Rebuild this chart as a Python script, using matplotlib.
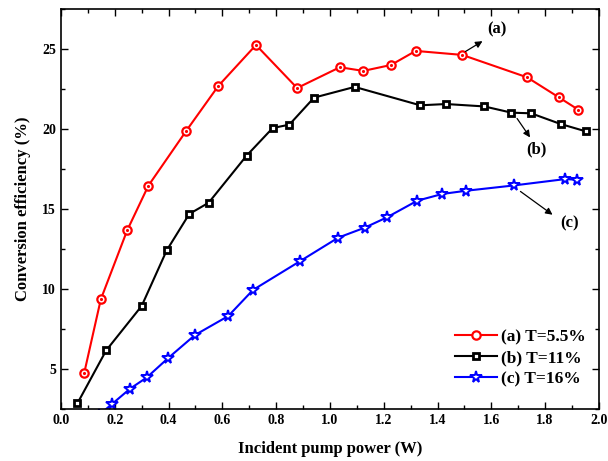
import matplotlib
matplotlib.use("Agg")
import matplotlib.pyplot as plt
from matplotlib.ticker import MultipleLocator, FormatStrFormatter

plt.rcParams['font.family'] = ['Liberation Serif', 'DejaVu Serif']
plt.rcParams['font.weight'] = 'bold'

# (a) T=5.5%
pa = [0.086, 0.148, 0.246, 0.325, 0.466, 0.585, 0.725, 0.878, 1.037, 1.124,
      1.227, 1.319, 1.492, 1.733, 1.851, 1.923]
ea = [4.72, 9.35, 13.66, 16.46, 19.89, 22.69, 25.25, 22.56, 23.86, 23.63,
      24.00, 24.88, 24.63, 23.23, 21.98, 21.21]

# (b) T=11%
pb = [0.061, 0.168, 0.300, 0.393, 0.477, 0.549, 0.690, 0.787, 0.849, 0.941,
      1.092, 1.336, 1.432, 1.574, 1.675, 1.748, 1.858, 1.952]
eb = [2.85, 6.16, 8.94, 12.41, 14.69, 15.39, 18.33, 20.06, 20.27, 21.96,
      22.63, 21.48, 21.56, 21.41, 21.02, 20.98, 20.31, 19.85]

# (c) T=16%  (first point sits below the visible range)
pc = [0.140, 0.191, 0.257, 0.319, 0.399, 0.498, 0.622, 0.714, 0.888, 1.031,
      1.129, 1.211, 1.325, 1.418, 1.506, 1.683, 1.875, 1.917]
ec = [2.10, 2.83, 3.77, 4.47, 5.69, 7.12, 8.31, 9.94, 11.73, 13.21,
      13.83, 14.47, 15.52, 15.94, 16.14, 16.47, 16.87, 16.83]

labels = ['(a) T=5.5%', '(b) T=11%', '(c) T=16%']

fig = plt.figure(figsize=(6.08, 4.61), dpi=100)
ax = fig.add_axes([0.1003, 0.1128, 0.8847, 0.8677])

ax.plot(pa, ea, color='red', lw=1.5, marker='o', ms=6, mfc='white',
        mec='red', mew=1.6, label=labels[0])
ax.plot(pa, ea, ls='none', marker='.', ms=2.5, color='red')
ax.plot(pb, eb, color='black', lw=1.5, marker='s', ms=4.8, mfc='white',
        mec='black', mew=2.0, label=labels[1])
ax.plot(pc, ec, color='blue', lw=1.5, marker='*', ms=8.5, mfc='white',
        mec='blue', mew=1.4, label=labels[2])

ax.set_xlim(0, 2.0)
ax.set_ylim(2.5, 27.5)
ax.xaxis.set_major_locator(MultipleLocator(0.2))
ax.xaxis.set_minor_locator(MultipleLocator(0.1))
ax.xaxis.set_major_formatter(FormatStrFormatter('%.1f'))
ax.yaxis.set_major_locator(MultipleLocator(5))
ax.yaxis.set_minor_locator(MultipleLocator(2.5))
ax.tick_params(which='both', direction='in', top=True, right=True,
               labelsize=10, width=1)
ax.tick_params(which='major', length=5)
ax.tick_params(which='minor', length=3)
for s in ax.spines.values():
    s.set_linewidth(1.2)

ax.set_xlabel('Incident pump power (W)', fontsize=12, fontweight='bold', labelpad=10)
ax.set_ylabel('Conversion efficiency (%)', fontsize=12, fontweight='bold', labelpad=8)

arr = dict(arrowstyle='-|>', color='black', lw=0.9, mutation_scale=10)
ax.text(1.62, 26.25, '(a)', fontsize=12, fontweight='bold', ha='center', va='center')
ax.annotate('', xy=(1.576, 25.58), xytext=(1.495, 24.75), arrowprops=arr)
ax.text(1.768, 18.7, '(b)', fontsize=12, fontweight='bold', ha='center', va='center')
ax.annotate('', xy=(1.75, 19.33), xytext=(1.69, 20.8), arrowprops=arr)
ax.text(1.89, 14.13, '(c)', fontsize=12, fontweight='bold', ha='center', va='center')
ax.annotate('', xy=(1.836, 14.54), xytext=(1.70, 16.2), arrowprops=arr)

ax.legend(loc='lower right', bbox_to_anchor=(1.005, 0.015), frameon=False,
          fontsize=12.5, handlelength=2.4, handletextpad=0.25, labelspacing=0.28,
          numpoints=1)

fig.savefig('out.png', dpi=100)
